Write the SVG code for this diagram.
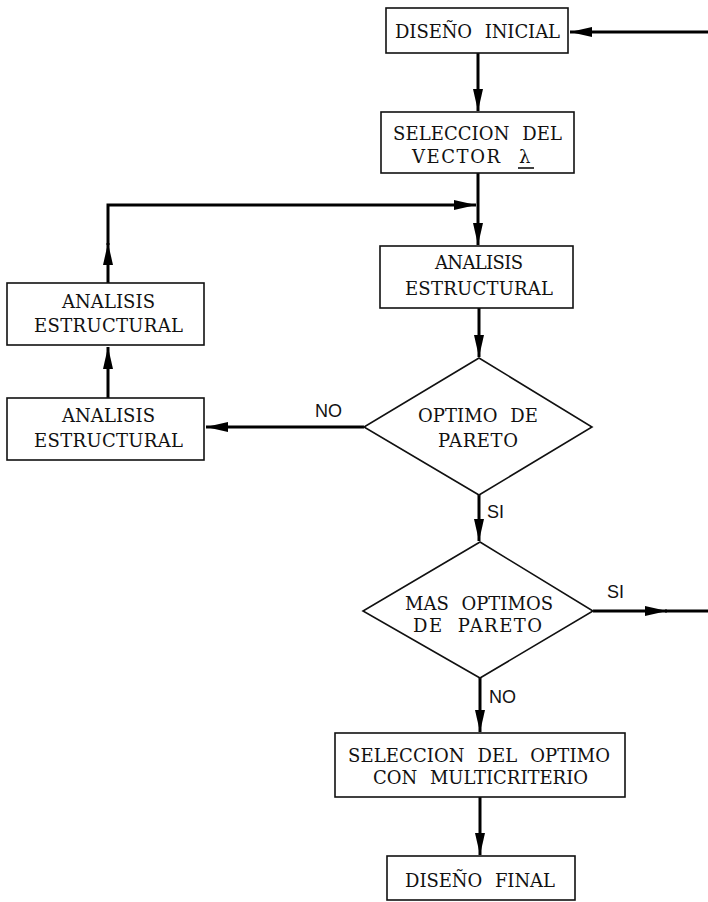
<svg xmlns="http://www.w3.org/2000/svg" width="708" height="902" viewBox="0 0 708 902">
<style>
.box{fill:#fff;stroke:#111;stroke-width:1.6}
.t{font-family:"DejaVu Serif","Liberation Serif",serif;font-size:18px;fill:#111;word-spacing:7px}
.lab{font-family:"Liberation Sans",Arial,sans-serif;font-size:18px;fill:#111}
.c{fill:none;stroke:#000;stroke-width:3}
</style>
<defs>
<marker id="ah" markerUnits="userSpaceOnUse" markerWidth="22" markerHeight="10" refX="22" refY="5" orient="auto">
<path d="M0,0 L22,5 L0,10 z" fill="#000"/>
</marker>
</defs>
<rect width="708" height="902" fill="#fff"/>
<g id="connectors">
<path class="c" d="M708,32 L570,32" marker-end="url(#ah)"/>
<path class="c" d="M478,53 L478,111" marker-end="url(#ah)"/>
<path class="c" d="M478,173 L478,245" marker-end="url(#ah)"/>
<path class="c" d="M108,283 L108,243" marker-end="url(#ah)"/>
<path class="c" d="M108,245 L108,205 L476,205" marker-end="url(#ah)"/>
<path class="c" d="M108,398 L108,347" marker-end="url(#ah)"/>
<path class="c" d="M479,308 L479,357" marker-end="url(#ah)"/>
<path class="c" d="M364,427 L206,427" marker-end="url(#ah)"/>
<path class="c" d="M479,495 L479,541" marker-end="url(#ah)"/>
<path class="c" d="M593,611 L667,611" marker-end="url(#ah)"/>
<path class="c" d="M665,611 L708,611"/>
<path class="c" d="M480,678 L480,732" marker-end="url(#ah)"/>
<path class="c" d="M480,797 L480,855" marker-end="url(#ah)"/>
<text class="lab" x="315" y="417">NO</text>
<text class="lab" x="487" y="518">SI</text>
<text class="lab" x="607" y="598">SI</text>
<text class="lab" x="489" y="703">NO</text>
</g>
<g id="diseno-inicial">
<rect class="box" x="386" y="8" width="182" height="45"/>
<text class="t" x="395" y="38" textLength="165" lengthAdjust="spacing">DISEÑO INICIAL</text>
</g>
<g id="seleccion-vector">
<rect class="box" x="381" y="112" width="193" height="61"/>
<text class="t" x="393" y="140" textLength="169" lengthAdjust="spacing">SELECCION DEL</text>
<text class="t" x="412" y="163" textLength="88" lengthAdjust="spacing">VECTOR</text>
<text class="t" x="519" y="163">λ</text>
<line x1="518" y1="168" x2="534" y2="168" stroke="#111" stroke-width="1.6"/>
</g>
<g id="analisis-1">
<rect class="box" x="380" y="246" width="193" height="62"/>
<text class="t" x="435" y="269" textLength="88" lengthAdjust="spacing">ANALISIS</text>
<text class="t" x="405" y="295" textLength="148" lengthAdjust="spacing">ESTRUCTURAL</text>
</g>
<g id="analisis-2">
<rect class="box" x="7" y="283" width="197" height="62"/>
<text class="t" x="62" y="308" textLength="93" lengthAdjust="spacing">ANALISIS</text>
<text class="t" x="34" y="332" textLength="149" lengthAdjust="spacing">ESTRUCTURAL</text>
</g>
<g id="analisis-3">
<rect class="box" x="7" y="398" width="197" height="62"/>
<text class="t" x="62" y="422" textLength="93" lengthAdjust="spacing">ANALISIS</text>
<text class="t" x="34" y="447" textLength="149" lengthAdjust="spacing">ESTRUCTURAL</text>
</g>
<g id="optimo-pareto">
<polygon class="box" points="479,358 592,427 479,495 364,427"/>
<text class="t" x="418" y="422" textLength="120" lengthAdjust="spacing">OPTIMO DE</text>
<text class="t" x="438" y="447" textLength="80" lengthAdjust="spacing">PARETO</text>
</g>
<g id="mas-optimos">
<polygon class="box" points="480,542 593,611 480,678 363,611"/>
<text class="t" x="405" y="610" textLength="148" lengthAdjust="spacing">MAS OPTIMOS</text>
<text class="t" x="413" y="632" textLength="129" lengthAdjust="spacing">DE PARETO</text>
</g>
<g id="seleccion-optimo">
<rect class="box" x="335" y="733" width="290" height="64"/>
<text class="t" x="348" y="762" textLength="262" lengthAdjust="spacing">SELECCION DEL OPTIMO</text>
<text class="t" x="373" y="784" textLength="215" lengthAdjust="spacing">CON MULTICRITERIO</text>
</g>
<g id="diseno-final">
<rect class="box" x="387" y="856" width="188" height="44"/>
<text class="t" x="405" y="887" textLength="150" lengthAdjust="spacing">DISEÑO FINAL</text>
</g>
</svg>
